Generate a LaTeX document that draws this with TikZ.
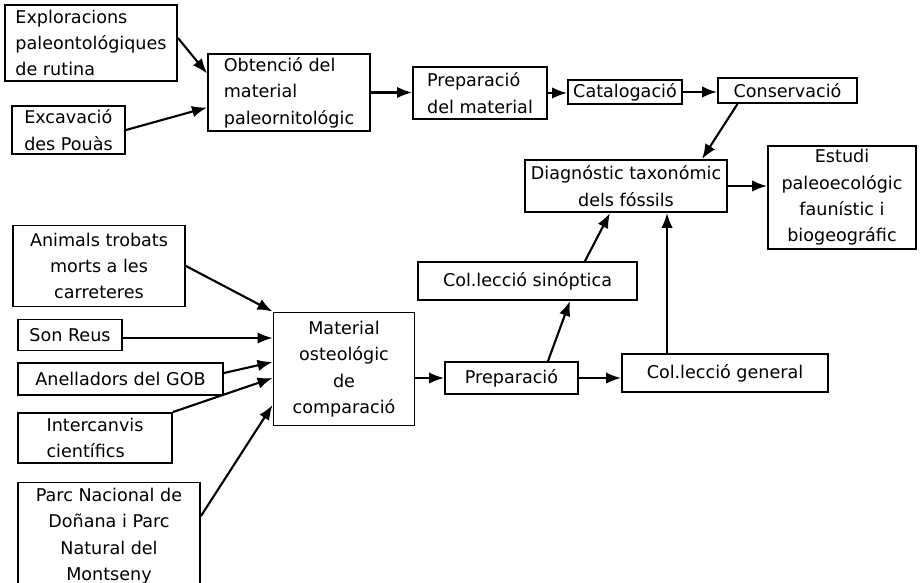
\documentclass[tikz,border=0pt]{standalone}
\usepackage{fontspec}
\setmainfont{DejaVu Sans}
\usetikzlibrary{arrows.meta}

\begin{document}
\begin{tikzpicture}[
        caixa/.style={draw, line width=1.1pt, inner sep=2pt, font=\fontsize{10}{15}\selectfont},
        fletxa/.style={line width=1.2pt, -{Latex[length=3mm, width=2.3mm]}}
    ]
            \useasboundingbox (0, 0) rectangle (18.4, -11.64);
            % origen del material fossil
            \node[caixa, align=left, minimum width=3.44cm, minimum height=1.52cm] (explo) at (1.82, -0.86) {Exploracions\\paleontológiques\\de rutina};
            \node[caixa, align=left, minimum width=2.26cm, minimum height=0.96cm] (excav) at (1.37, -2.60) {Excavació\\des Pouàs};
            \node[caixa, align=left, minimum width=3.24cm, minimum height=1.50cm] (obten) at (5.78, -1.85) {Obtenció del\\material\\paleornitológic};
            \node[caixa, align=left, minimum width=2.68cm, minimum height=1.04cm] (prepm) at (9.60, -1.86) {Preparació\\del material};
            \node[caixa, minimum width=2.28cm, minimum height=0.48cm] (catal) at (12.50, -1.84) {Catalogació};
            \node[caixa, minimum width=2.78cm, minimum height=0.50cm] (conse) at (15.75, -1.81) {Conservació};
            \node[caixa, align=center, minimum width=4.04cm, minimum height=1.04cm] (diagn) at (12.52, -3.72) {Diagnóstic taxonómic\\dels fóssils};
            \node[caixa, align=center, minimum width=2.96cm, minimum height=2.02cm] (estud) at (16.84, -3.95) {Estudi\\paleoecológic\\faunístic i\\biogeográfic};
            % material de comparacio
            \node[caixa, align=center, minimum width=3.44cm, minimum height=1.62cm] (anim) at (1.98, -5.32) {Animals trobats\\morts a les\\carreteres};
            \node[caixa, minimum width=2.08cm, minimum height=0.62cm] (sonre) at (1.40, -6.70) {Son Reus};
            \node[caixa, minimum width=4.10cm, minimum height=0.64cm] (anell) at (2.41, -7.58) {Anelladors del GOB};
            \node[caixa, align=left, minimum width=3.08cm, minimum height=1.00cm] (inter) at (1.90, -8.76) {Intercanvis\\científics};
            \node[caixa, align=center, minimum width=3.64cm, minimum height=2.14cm] (parc) at (2.18, -10.72) {Parc Nacional de\\Doñana i Parc\\Natural del\\Montseny};
            \node[caixa, align=center, minimum width=2.82cm, minimum height=2.26cm] (mater) at (6.88, -7.38) {Material\\osteológic\\de\\comparació};
            \node[caixa, minimum width=4.38cm, minimum height=0.76cm] (sinop) at (10.55, -5.62) {Col.lecció sinóptica};
            \node[caixa, minimum width=2.66cm, minimum height=0.64cm] (prepa) at (10.23, -7.56) {Preparació};
            \node[caixa, minimum width=4.12cm, minimum height=0.76cm] (gener) at (14.50, -7.46) {Col.lecció general};
            % fletxes
            \draw[fletxa] ([yshift=0.1cm]explo.east) -- ([yshift=0.38cm]obten.west);
            \draw[fletxa] (excav.east) -- ([yshift=-0.3cm]obten.west);
            \draw[fletxa] (obten.east) -- (obten.east -| prepm.west);
            \draw[fletxa] (prepm.east) -- (prepm.east -| catal.west);
            \draw[fletxa] (catal.east) -- (catal.east -| conse.west);
            \draw[fletxa] ([xshift=-1.0cm]conse.south) -- ([xshift=1.52cm]diagn.north);
            \draw[fletxa] (diagn.east) -- (diagn.east -| estud.west);
            \draw[fletxa] (anim.east) -- (mater.north west);
            \draw[fletxa] ([yshift=-0.06cm]sonre.east) -- ([yshift=-0.06cm]sonre.east -| mater.west);
            \draw[fletxa] ([yshift=0.12cm]anell.east) -- ([yshift=0.14cm]mater.west);
            \draw[fletxa] (inter.north east) -- ([yshift=-0.18cm]mater.west);
            \draw[fletxa] ([yshift=0.4cm]parc.east) -- ([yshift=-0.72cm]mater.west);
            \draw[fletxa] (prepa.west -| mater.east) -- (prepa.west);
            \draw[fletxa] (prepa.east) -- (prepa.east -| gener.west);
            \draw[fletxa] ([xshift=0.73cm]prepa.north) -- ([xshift=0.85cm]sinop.south);
            \draw[fletxa] ([xshift=1.15cm]sinop.north) -- ([xshift=-0.32cm]diagn.south);
            \draw[fletxa] ([xshift=-1.16cm]gener.north) -- ([xshift=-1.16cm]gener.north |- diagn.south);
        \end{tikzpicture}
\end{document}
